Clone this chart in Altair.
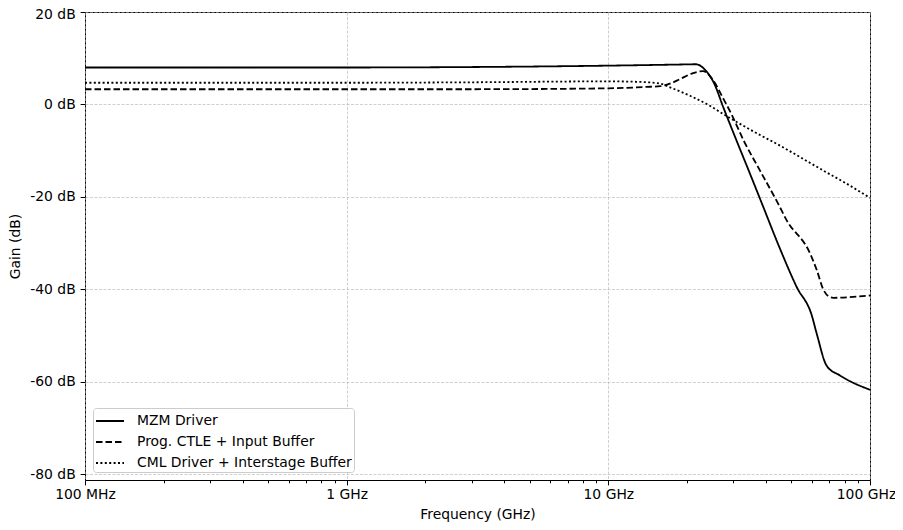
import altair as alt
import pandas as pd

series = ["MZM Driver", "Prog. CTLE + Input Buffer", "CML Driver + Interstage Buffer"]

mzm_freq = [0.1, 1, 3, 10, 15, 19, 21.6, 23.6, 25.4, 27.5, 30.9, 34.8, 38.5, 45.3, 52.5, 59.9, 62.6, 68.3, 76.8, 100]
mzm_gain = [8.0, 8.0, 8.1, 8.4, 8.55, 8.65, 8.7, 7.3, 4.5, -0.6, -7.8, -15.0, -21.2, -31.2, -39.5, -45.6, -49.6, -56.5, -58.6, -61.7]

ctle_freq = [0.1, 1, 3, 10, 14, 15.8, 17.2, 18.8, 21.1, 23.0, 25.2, 27.3, 29.5, 32.9, 38.0, 44.6, 48.0, 59.0, 62.6, 66.3, 69.5, 72.4, 100]
ctle_gain = [3.3, 3.3, 3.3, 3.5, 3.8, 3.95, 4.5, 5.5, 6.8, 7.2, 5.2, 1.6, -2.0, -7.8, -14.3, -21.5, -25.0, -32.2, -35.8, -40.0, -41.5, -41.8, -41.3]

cml_freq = [0.1, 1, 3, 10, 13, 15.8, 17.2, 20.5, 24.3, 28.1, 32.8, 38.0, 44.0, 50.8, 58.9, 68.3, 79.6, 100]
cml_gain = [4.7, 4.7, 4.8, 5.0, 4.9, 4.5, 3.7, 1.9, -0.2, -2.4, -4.6, -6.6, -8.5, -10.5, -12.6, -14.7, -16.8, -20.2]

x_major = [0.1, 1, 10, 100]
x_minor = [m * d for d in [0.1, 1, 10] for m in range(2, 10)]
y_ticks = [-80, -60, -40, -20, 0, 20]

rows = []
for name, fr, gn in zip(series, [mzm_freq, ctle_freq, cml_freq], [mzm_gain, ctle_gain, cml_gain]):
    for f, g in zip(fr, gn):
        rows.append({"series": name, "freq": f, "gain": g})
df = pd.DataFrame(rows)

font = "DejaVu Sans"
fs = 13.9
major_test = "indexof([0.1, 1, 10, 100], datum.value) >= 0"

x_axis = alt.Axis(
    values=x_major + x_minor,
    labelExpr="datum.value == 0.1 ? '100 MHz' : datum.value == 1 ? '1 GHz' : datum.value == 10 ? '10 GHz' : datum.value == 100 ? '100 GHz' : ''",
    title="Frequency (GHz)",
    grid=True,
    gridOpacity={"condition": {"test": major_test, "value": 1}, "value": 0},
    tickSize={"condition": {"test": major_test, "value": 4.9}, "value": 2.8},
    labelOffset={"condition": {"test": "datum.value == 100", "value": -4}, "value": 0},
    labelFlush=False,
    labelOverlap=False,
    labelPadding=2.5,
    titlePadding=6,
)

y_axis = alt.Axis(
    values=y_ticks,
    labelExpr="datum.value + ' dB'",
    title="Gain (dB)",
    grid=True,
    tickSize=4.9,
    labelOffset={"condition": {"test": "datum.value == 20", "value": 2}, "value": 0},
    labelFlush=False,
    labelPadding=4.9,
    titlePadding=7,
)

chart = alt.Chart(df).mark_line(interpolate="monotone", color="black", strokeWidth=1.8).encode(
    x=alt.X("freq:Q", scale=alt.Scale(type="log", domain=[0.1, 100], nice=False), axis=x_axis),
    y=alt.Y("gain:Q", scale=alt.Scale(domain=[-81.2, 20], nice=False, zero=False), axis=y_axis),
    strokeDash=alt.StrokeDash(
        "series:N",
        scale=alt.Scale(domain=series, range=[[1, 0], [6.5, 3], [2, 2.4]]),
        legend=alt.Legend(
            title=None,
            orient="bottom-left",
            offset=8,
            symbolType="M-1.4,0H1.4",
            symbolSize=400,
            symbolOffset=4,
            symbolStrokeWidth=1.8,
            symbolStrokeColor="black",
            symbolFillColor="transparent",
            labelFont=font,
            labelFontSize=fs,
            labelColor="black",
            labelLimit=0,
            labelOffset=16,
            fillColor="white",
            strokeColor="#cccccc",
            cornerRadius=3,
            padding=2,
            rowPadding=3,
        ),
    ),
).properties(
    width=785,
    height=468,
    autosize=alt.AutoSizeParams(type="none"),
    padding={"left": 77, "top": 4, "right": 25, "bottom": 42},
).configure_view(
    stroke="black", strokeWidth=1
).configure_axis(
    labelFont=font,
    titleFont=font,
    labelFontSize=fs,
    titleFontSize=fs,
    titleFontWeight="normal",
    labelColor="black",
    titleColor="black",
    domain=False,
    tickColor="black",
    gridColor="#b0b0b0",
    gridDash=[3, 1.5],
    gridWidth=0.6,
)

chart.save("out.html", embed_options={"renderer": "svg", "actions": False})
